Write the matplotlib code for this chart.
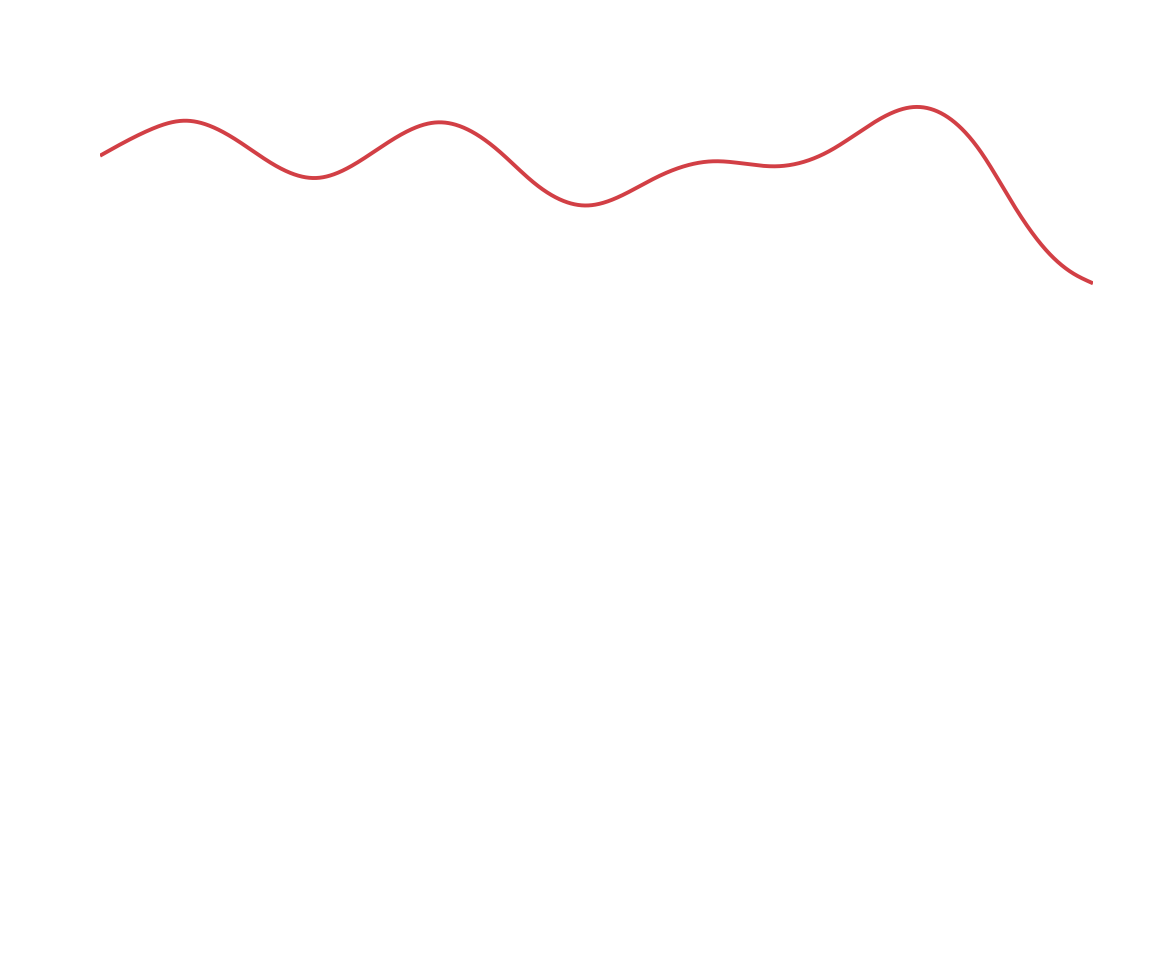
import numpy as np
import matplotlib
matplotlib.use('Agg')
import matplotlib.pyplot as plt

# ===============================
# DATA
# ===============================
x_vals = [0, 5.04, 8.56, 14.10, 17.12, 21.82, 28.50, 34.06, 40.28, 43.61,
          49.01, 56.05, 61.73, 68.14, 73.51, 78.85, 81.97, 88.62, 91.94, 95.33,
          97.99, 100]
y_vals = [86.43, 89.45, 90.50, 87.99, 85.66, 83.84, 87.59, 90.31, 86.86, 83.37,
          80.64, 83.92, 85.78, 85.20, 87.01, 90.90, 92.09, 87.01, 80.81, 75.38,
          72.75, 71.59]

line_color = '#d23f45'


# ===============================
# smooth curve (natural cubic spline)
# ===============================
def natural_spline(x, y, xs):
    x = np.asarray(x, float)
    y = np.asarray(y, float)
    n = len(x)
    h = np.diff(x)
    A = np.zeros((n, n))
    b = np.zeros(n)
    A[0, 0] = 1
    A[-1, -1] = 1
    for i in range(1, n - 1):
        A[i, i - 1] = h[i - 1]
        A[i, i] = 2 * (h[i - 1] + h[i])
        A[i, i + 1] = h[i]
        b[i] = 6 * ((y[i + 1] - y[i]) / h[i] - (y[i] - y[i - 1]) / h[i - 1])
    M = np.linalg.solve(A, b)

    idx = np.clip(np.searchsorted(x, xs) - 1, 0, n - 2)
    x0, x1 = x[idx], x[idx + 1]
    hi = h[idx]
    a = (x1 - xs) / hi
    c = (xs - x0) / hi
    return (a * y[idx] + c * y[idx + 1]
            + ((a**3 - a) * M[idx] + (c**3 - c) * M[idx + 1]) * hi**2 / 6)


xs = np.linspace(x_vals[0], x_vals[-1], 2000)
ys = natural_spline(x_vals, y_vals, xs)

# ===============================
# PLOT
# ===============================
fig = plt.figure(figsize=(11.7, 9.62), dpi=100)
ax = fig.add_axes([100 / 1170, 1 - 900 / 962, 993 / 1170, 860 / 962])
ax.plot(xs, ys, color=line_color, linewidth=2.8, solid_capstyle='butt',
        solid_joinstyle='round')
ax.set_xlim(0, 100)
ax.set_ylim(0, 100)
ax.axis('off')

fig.savefig('out.png', dpi=100, facecolor='white')
